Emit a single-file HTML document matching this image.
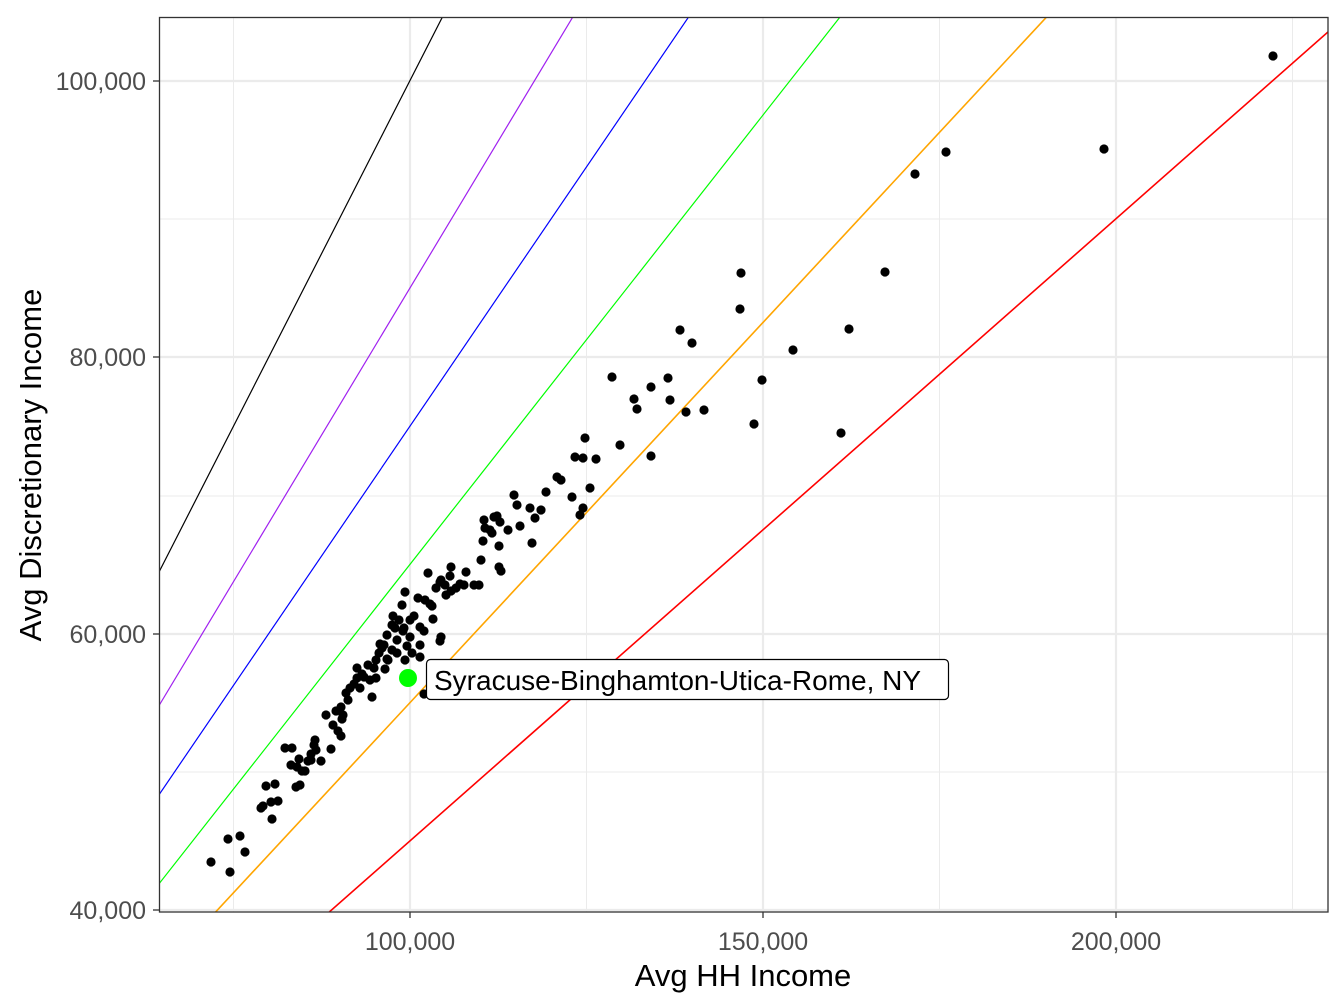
<!DOCTYPE html>
<html><head><meta charset="utf-8"><style>
html,body{margin:0;padding:0;background:#fff;width:1344px;height:1008px;overflow:hidden;}
svg{display:block;font-family:"Liberation Sans",Arial,sans-serif;}
</style></head><body>
<svg width="1344" height="1008" viewBox="0 0 1344 1008" xmlns="http://www.w3.org/2000/svg">
<defs><clipPath id="c"><rect x="159" y="17" width="1169" height="895"/></clipPath></defs>
<rect width="1344" height="1008" fill="#fff"/>
<g stroke="#ebebeb" stroke-width="1">
<line x1="233.5" y1="17" x2="233.5" y2="912"/><line x1="586.5" y1="17" x2="586.5" y2="912"/><line x1="939.5" y1="17" x2="939.5" y2="912"/><line x1="1292.5" y1="17" x2="1292.5" y2="912"/>
<line x1="159" y1="219" x2="1328" y2="219"/><line x1="159" y1="496" x2="1328" y2="496"/><line x1="159" y1="772" x2="1328" y2="772"/>
</g>
<g stroke="#ebebeb" stroke-width="2.2">
<line x1="410" y1="17" x2="410" y2="912"/><line x1="763" y1="17" x2="763" y2="912"/><line x1="1116" y1="17" x2="1116" y2="912"/>
<line x1="159" y1="81" x2="1328" y2="81"/><line x1="159" y1="357" x2="1328" y2="357"/><line x1="159" y1="634" x2="1328" y2="634"/><line x1="159" y1="910" x2="1328" y2="910"/>
</g>
<g clip-path="url(#c)">
<g stroke-width="1.2" fill="none">
<line x1="127.6" y1="633.5" x2="1398.4" y2="-1855" stroke="#000"/>
<line x1="127.6" y1="757.9" x2="1398.4" y2="-1357" stroke="#a020f0"/>
<line x1="127.6" y1="840.9" x2="1398.4" y2="-1025.5" stroke="#0000ff"/>
<line x1="127.6" y1="923.8" x2="1398.4" y2="-693.7" stroke="#00ff00"/>
<line x1="127.6" y1="1006.8" x2="1398.4" y2="-361.9" stroke="#ffa500" stroke-width="1.6"/>
<line x1="127.6" y1="1089.7" x2="1398.4" y2="-30.1" stroke="#ff0000" stroke-width="1.6"/>
</g>
<g fill="#000">
<circle cx="1273" cy="56" r="4.6"/><circle cx="1104" cy="149" r="4.6"/><circle cx="946" cy="152" r="4.6"/><circle cx="915" cy="174" r="4.6"/><circle cx="885" cy="272" r="4.6"/><circle cx="741" cy="273" r="4.6"/><circle cx="740" cy="309" r="4.6"/><circle cx="849" cy="329" r="4.6"/><circle cx="680" cy="330" r="4.6"/><circle cx="692" cy="343" r="4.6"/><circle cx="793" cy="350" r="4.6"/><circle cx="612" cy="377" r="4.6"/><circle cx="668" cy="378" r="4.6"/><circle cx="651" cy="387" r="4.6"/><circle cx="762" cy="380" r="4.6"/><circle cx="634" cy="399" r="4.6"/><circle cx="637" cy="409" r="4.6"/><circle cx="670" cy="400" r="4.6"/><circle cx="686" cy="412" r="4.6"/><circle cx="704" cy="410" r="4.6"/><circle cx="754" cy="424" r="4.6"/><circle cx="841" cy="433" r="4.6"/><circle cx="585" cy="438" r="4.6"/><circle cx="620" cy="445" r="4.6"/><circle cx="651" cy="456" r="4.6"/><circle cx="575" cy="457" r="4.6"/><circle cx="583" cy="458" r="4.6"/><circle cx="596" cy="459" r="4.6"/><circle cx="590" cy="488" r="4.6"/><circle cx="557" cy="477" r="4.6"/><circle cx="561" cy="480" r="4.6"/><circle cx="546" cy="492" r="4.6"/><circle cx="572" cy="497" r="4.6"/><circle cx="514" cy="495" r="4.6"/><circle cx="517" cy="505" r="4.6"/><circle cx="530" cy="508" r="4.6"/><circle cx="541" cy="510" r="4.6"/><circle cx="583" cy="508" r="4.6"/><circle cx="580" cy="515" r="4.6"/><circle cx="535" cy="518" r="4.6"/><circle cx="520" cy="526" r="4.6"/><circle cx="532" cy="543" r="4.6"/><circle cx="484" cy="520" r="4.6"/><circle cx="494" cy="517" r="4.6"/><circle cx="490" cy="530" r="4.6"/><circle cx="497" cy="516" r="4.6"/><circle cx="500" cy="522" r="4.6"/><circle cx="508" cy="530" r="4.6"/><circle cx="485" cy="528" r="4.6"/><circle cx="492" cy="533" r="4.6"/><circle cx="499" cy="546" r="4.6"/><circle cx="483" cy="541" r="4.6"/><circle cx="481" cy="560" r="4.6"/><circle cx="499" cy="567" r="4.6"/><circle cx="501" cy="571" r="4.6"/><circle cx="466" cy="572" r="4.6"/><circle cx="451" cy="567" r="4.6"/><circle cx="450" cy="576" r="4.6"/><circle cx="445" cy="585" r="4.6"/><circle cx="441" cy="580" r="4.6"/><circle cx="460" cy="584" r="4.6"/><circle cx="456" cy="588" r="4.6"/><circle cx="446" cy="595" r="4.6"/><circle cx="451" cy="591" r="4.6"/><circle cx="474" cy="585" r="4.6"/><circle cx="479" cy="585" r="4.6"/><circle cx="464" cy="585" r="4.6"/><circle cx="428" cy="573" r="4.6"/><circle cx="440" cy="582" r="4.6"/><circle cx="436" cy="588" r="4.6"/><circle cx="432" cy="606" r="4.6"/><circle cx="425" cy="600" r="4.6"/><circle cx="430" cy="604" r="4.6"/><circle cx="418" cy="598" r="4.6"/><circle cx="405" cy="592" r="4.6"/><circle cx="402" cy="605" r="4.6"/><circle cx="414" cy="616" r="4.6"/><circle cx="399" cy="620" r="4.6"/><circle cx="410" cy="620" r="4.6"/><circle cx="404" cy="628" r="4.6"/><circle cx="395" cy="628" r="4.6"/><circle cx="420" cy="627" r="4.6"/><circle cx="424" cy="631" r="4.6"/><circle cx="433" cy="619" r="4.6"/><circle cx="441" cy="637" r="4.6"/><circle cx="440" cy="641" r="4.6"/><circle cx="420" cy="645" r="4.6"/><circle cx="410" cy="637" r="4.6"/><circle cx="407" cy="646" r="4.6"/><circle cx="397" cy="640" r="4.6"/><circle cx="387" cy="635" r="4.6"/><circle cx="384" cy="645" r="4.6"/><circle cx="392" cy="650" r="4.6"/><circle cx="382" cy="648" r="4.6"/><circle cx="379" cy="653" r="4.6"/><circle cx="388" cy="660" r="4.6"/><circle cx="405" cy="660" r="4.6"/><circle cx="420" cy="657" r="4.6"/><circle cx="376" cy="660" r="4.6"/><circle cx="385" cy="669" r="4.6"/><circle cx="368" cy="665" r="4.6"/><circle cx="376" cy="678" r="4.6"/><circle cx="370" cy="680" r="4.6"/><circle cx="362" cy="674" r="4.6"/><circle cx="357" cy="678" r="4.6"/><circle cx="360" cy="688" r="4.6"/><circle cx="350" cy="688" r="4.6"/><circle cx="346" cy="693" r="4.6"/><circle cx="372" cy="697" r="4.6"/><circle cx="348" cy="700" r="4.6"/><circle cx="341" cy="707" r="4.6"/><circle cx="343" cy="715" r="4.6"/><circle cx="333" cy="725" r="4.6"/><circle cx="342" cy="719" r="4.6"/><circle cx="338" cy="731" r="4.6"/><circle cx="341" cy="736" r="4.6"/><circle cx="331" cy="749" r="4.6"/><circle cx="315" cy="740" r="4.6"/><circle cx="314" cy="745" r="4.6"/><circle cx="316" cy="750" r="4.6"/><circle cx="311" cy="754" r="4.6"/><circle cx="308" cy="761" r="4.6"/><circle cx="299" cy="759" r="4.6"/><circle cx="292" cy="748" r="4.6"/><circle cx="285" cy="748" r="4.6"/><circle cx="291" cy="765" r="4.6"/><circle cx="297" cy="767" r="4.6"/><circle cx="321" cy="761" r="4.6"/><circle cx="305" cy="771" r="4.6"/><circle cx="302" cy="771" r="4.6"/><circle cx="300" cy="785" r="4.6"/><circle cx="296" cy="787" r="4.6"/><circle cx="266" cy="786" r="4.6"/><circle cx="275" cy="784" r="4.6"/><circle cx="271" cy="802" r="4.6"/><circle cx="263" cy="806" r="4.6"/><circle cx="261" cy="808" r="4.6"/><circle cx="278" cy="801" r="4.6"/><circle cx="272" cy="819" r="4.6"/><circle cx="240" cy="836" r="4.6"/><circle cx="228" cy="839" r="4.6"/><circle cx="245" cy="852" r="4.6"/><circle cx="211" cy="862" r="4.6"/><circle cx="230" cy="872" r="4.6"/><circle cx="424" cy="694" r="4.6"/><circle cx="357" cy="668" r="4.6"/><circle cx="364" cy="677" r="4.6"/><circle cx="380" cy="644" r="4.6"/><circle cx="387" cy="659" r="4.6"/><circle cx="397" cy="653" r="4.6"/><circle cx="412" cy="653" r="4.6"/><circle cx="393" cy="616" r="4.6"/><circle cx="403" cy="631" r="4.6"/><circle cx="392" cy="625" r="4.6"/><circle cx="374" cy="668" r="4.6"/><circle cx="354" cy="684" r="4.6"/><circle cx="336" cy="711" r="4.6"/><circle cx="326" cy="715" r="4.6"/><circle cx="311" cy="760" r="4.6"/>
</g>
</g>
<rect x="159.5" y="17.5" width="1168.5" height="894.5" fill="none" stroke="#333" stroke-width="1.3"/>
<g stroke="#333" stroke-width="1.3">
<line x1="410" y1="912" x2="410" y2="918"/><line x1="763" y1="912" x2="763" y2="918"/><line x1="1116" y1="912" x2="1116" y2="918"/>
<line x1="153" y1="81" x2="159" y2="81"/><line x1="153" y1="357" x2="159" y2="357"/><line x1="153" y1="634" x2="159" y2="634"/><line x1="153" y1="910" x2="159" y2="910"/>
</g>
<g fill="#4d4d4d" font-size="25">
<text x="410" y="950" text-anchor="middle">100,000</text><text x="763" y="950" text-anchor="middle">150,000</text><text x="1116" y="950" text-anchor="middle">200,000</text>
<text x="146" y="90" text-anchor="end">100,000</text><text x="146" y="366" text-anchor="end">80,000</text><text x="146" y="643" text-anchor="end">60,000</text><text x="146" y="919" text-anchor="end">40,000</text>
</g>
<text x="743" y="986" text-anchor="middle" font-size="31">Avg HH Income</text>
<text transform="translate(41,465) rotate(-90)" text-anchor="middle" font-size="31">Avg Discretionary Income</text>
<circle cx="408" cy="678" r="9" fill="#00ff00"/>
<rect x="426.5" y="659.5" width="522" height="40" rx="4" fill="#fff" stroke="#000" stroke-width="1.2"/>
<text x="434" y="690" font-size="28">Syracuse-Binghamton-Utica-Rome, NY</text>
</svg>
</body></html>
